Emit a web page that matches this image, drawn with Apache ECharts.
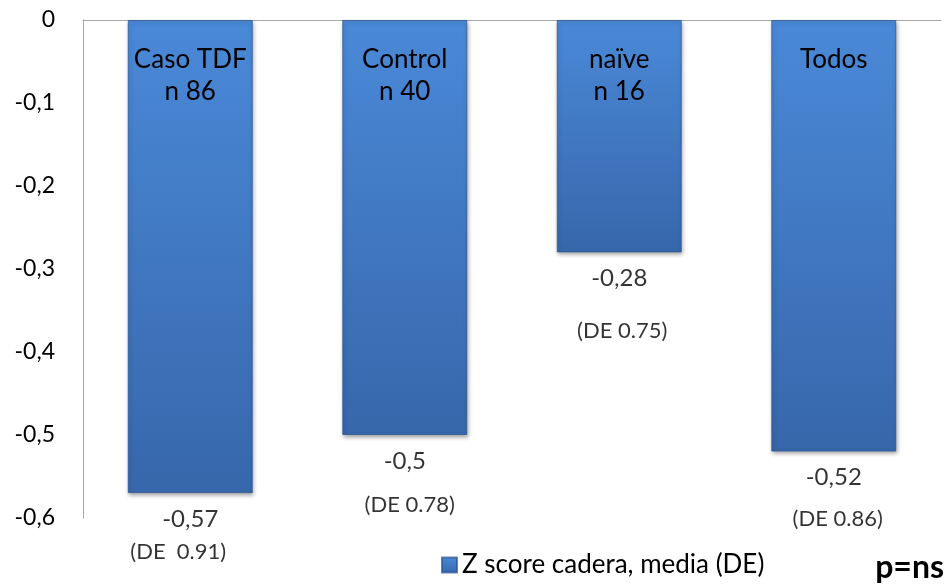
<!DOCTYPE html>
<html>
<head>
<meta charset="utf-8">
<script src="https://cdn.jsdelivr.net/npm/echarts@6/dist/echarts.min.js"></script>
<style>
html,body{margin:0;padding:0;background:#fff;}
#chart{width:949px;height:587px;}
</style>
</head>
<body>
<div id="chart"></div>
<script>
// ---- data ----
var categories = ["Caso TDF\nn 86", "Control\nn 40", "naïve\nn 16", "Todos"];
var zScores = [-0.57, -0.5, -0.28, -0.52];
var deLabels = ["(DE  0.91)", "(DE 0.78)", "(DE 0.75)", "(DE 0.86)"];
var yTicks = { min: -0.6, max: 0, interval: 0.1 };
var seriesName = "Z score cadera, media (DE)";
var note = "p=ns";

// ---- layout (styling only) ----
var deOffsets = [[-12, 59], [5, 70], [3, 79], [4, 67]];

var FONT = 'Lato, "Noto Sans", sans-serif';
var chart = echarts.init(document.getElementById('chart'), null, {renderer: 'canvas'});

var barColor = new echarts.graphic.LinearGradient(0, 0, 0, 1, [
  {offset: 0, color: '#4a89d8'},
  {offset: 1, color: '#3767ab'}
]);

function fmtNum(v) { return String(Math.round(v * 100) / 100).replace('.', ','); }

var option = {
  animation: false,
  backgroundColor: '#ffffff',
  textStyle: {fontFamily: FONT},
  grid: {left: 83, right: 8, top: 20, bottom: 69, containLabel: false},
  xAxis: {
    type: 'category',
    data: categories,
    position: 'top',
    axisLine: {show: true, lineStyle: {color: '#a6a6a6', width: 1}},
    axisTick: {show: false},
    axisLabel: {show: false},
    splitLine: {show: false}
  },
  yAxis: {
    type: 'value',
    min: yTicks.min, max: yTicks.max, interval: yTicks.interval,
    axisLine: {show: true, lineStyle: {color: '#a6a6a6', width: 1}},
    axisTick: {show: false},
    splitLine: {show: false},
    axisLabel: {
      margin: 28, fontSize: 23, color: '#000', fontFamily: FONT,
      formatter: function (v) { return fmtNum(v); }
    }
  },
  legend: {
    left: 436, top: 547,
    itemWidth: 15, itemHeight: 15, itemGap: 6,
    textStyle: {fontSize: 26, color: '#000', fontFamily: FONT},
    data: [{name: seriesName, icon: 'rect'}]
  },
  series: [
    {
      name: seriesName,
      type: 'bar',
      barWidth: 125,
      data: zScores,
      itemStyle: {
        color: barColor,
        borderColor: 'rgba(40,82,145,0.7)', borderWidth: 1,
        shadowBlur: 4, shadowOffsetY: 2, shadowOffsetX: 1, shadowColor: 'rgba(0,0,0,0.35)'
      },
      label: {
        show: true, position: 'insideTop', distance: 24,
        fontSize: 26, lineHeight: 32, color: '#000', fontFamily: FONT,
        formatter: function (p) { return categories[p.dataIndex]; }
      }
    },
    {
      name: 'valores',
      type: 'scatter',
      data: zScores,
      symbolSize: 1,
      itemStyle: {color: 'transparent'},
      silent: true,
      label: {
        show: true, position: 'inside', offset: [0, 26],
        fontSize: 24, color: '#000', fontFamily: FONT,
        formatter: function (p) { return fmtNum(zScores[p.dataIndex]); }
      }
    },
    {
      name: 'de',
      type: 'scatter',
      symbolSize: 1,
      silent: true,
      itemStyle: {color: 'transparent'},
      data: zScores.map(function (v, i) {
        return {
          value: v,
          label: {offset: deOffsets[i]}
        };
      }),
      label: {
        show: true, position: 'inside',
        fontSize: 22, color: '#000', fontFamily: FONT,
        formatter: function (p) { return deLabels[p.dataIndex]; }
      }
    }
  ],
  graphic: [{
    type: 'text',
    right: 5, top: 552,
    style: {text: note, font: 'bold 32px ' + FONT, fill: '#000'}
  }]
};
chart.setOption(option);
</script>
</body>
</html>
